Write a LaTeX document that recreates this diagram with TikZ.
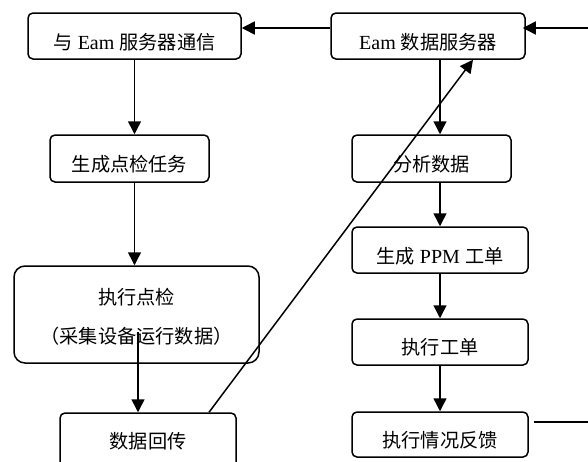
\documentclass[tikz,border=0pt]{standalone}
\usepackage{fontspec}
\setmainfont{Liberation Serif}
\newfontfamily\cjkfont[Scale=0.96]{Noto Sans CJK SC}
\newcommand\zh[1]{{\cjkfont #1}}
\usetikzlibrary{arrows.meta}
\tikzset{
  box/.style={draw, line width=1.5pt, rounded corners=5pt, inner sep=0pt},
  bigbox/.style={box, rounded corners=11pt},
  txt/.style={inner sep=0pt, font=\fontsize{20}{24}\selectfont},
  arr/.style={line width=1.5pt, -{Triangle[length=13pt,width=13pt]}},
  ln/.style={line width=1.5pt},
}
\begin{document}
\begin{tikzpicture}[x=1pt,y=-1pt]
\useasboundingbox (0,0) rectangle (588,461);
% boxes
\node[box, minimum width=213pt, minimum height=46pt] (b1) at (134.5,36) {};
\node[box, minimum width=194pt, minimum height=46pt] (b2) at (428,36) {};
\node[box, minimum width=159pt, minimum height=47pt] (b3) at (129.5,158.5) {};
\node[bigbox, minimum width=245pt, minimum height=97pt] (b4) at (136.5,314.5) {};
\node[box, minimum width=176pt, minimum height=57pt] (b5) at (148,441.5) {};
\node[box, minimum width=159pt, minimum height=47pt] (b6) at (431.5,158.5) {};
\node[box, minimum width=176pt, minimum height=46pt] (b7) at (440,250) {};
\node[box, minimum width=176pt, minimum height=46pt] (b8) at (440,342) {};
\node[box, minimum width=176pt, minimum height=45pt] (b9) at (440,434.5) {};
% texts
\node[txt] (t1) at ([yshift=-30pt]b1.north) {\zh{与} Eam \zh{服务器通信}};
\node[txt] (t2) at ([yshift=-30pt]b2.north) {Eam \zh{数据服务器}};
\node[txt] (t3) at ([yshift=-30pt]b3.north) {\zh{生成点检任务}};
\node[txt] (t4a) at ([yshift=-32pt]b4.north) {\zh{执行点检}};
\node[txt] (t4b) at ([yshift=-71pt]b4.north) {\zh{（采集设备运行数据）}};
\node[txt] (t5) at ([yshift=-29pt]b5.north) {\zh{数据回传}};
\node[txt] (t6) at ([yshift=-30pt]b6.north) {\zh{分析数据}};
\node[txt] (t7) at ([yshift=-30pt]b7.north) {\zh{生成} PPM \zh{工单}};
\node[txt] (t8) at ([yshift=-29pt]b8.north) {\zh{执行工单}};
\node[txt] (t9) at ([yshift=-29pt]b9.north) {\zh{执行情况反馈}};
% free ends
\coordinate (fin) at (588,28);
\coordinate (fout) at (588,422);
\coordinate (s4) at (138,332);
% connectors
\draw[arr] (b1.south) -- (b1.south |- b3.north);
\draw[arr] (b1.south |- b3.south) -- (b1.south |- b4.north);
\draw[arr] (s4) -- (s4 |- b5.north);
\draw[arr] ([xshift=61pt]b5.north) -- ([xshift=45pt]b2.south);
\draw[arr] (b7.north |- b2.south) -- (b7.north |- b6.north);
\draw[arr] (b7.north |- b6.south) -- (b7.north);
\draw[arr] (b7.south) -- (b8.north);
\draw[arr] (b8.south) -- (b9.north);
\draw[arr] (b2.west |- fin) -- (b1.east |- fin);
\draw[arr, shorten >=-3pt] (fin) -- (fin -| b2.east);
\draw[ln] ([xshift=5pt]b9.east |- fout) -- (fout);
\end{tikzpicture}
\end{document}
